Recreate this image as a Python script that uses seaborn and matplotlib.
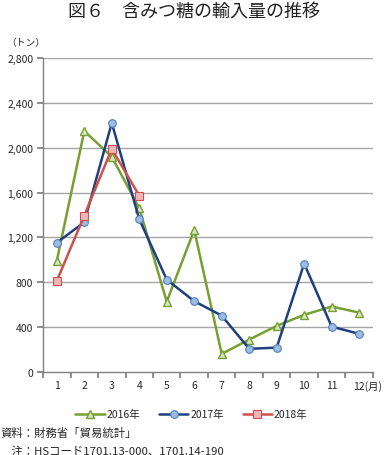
import numpy as np
import pandas as pd
import seaborn as sns
import matplotlib.pyplot as plt
from matplotlib.ticker import FuncFormatter, FixedLocator

# data (tons)
months = list(range(1, 13))
month_labels = [str(m) for m in months[:-1]] + ['']   # last one is drawn with its unit
y2016 = [990, 2150, 1920, 1460, 625, 1265, 158, 286, 408, 507, 581, 527]
y2017 = [1152, 1335, 2222, 1361, 822, 629, 500, 203, 214, 965, 402, 337]
y2018 = [810, 1394, 1990, 1572]
series_names = ['2016年', '2017年', '2018年']

sns.set_theme(style='white')
plt.rcParams['font.family'] = ['Noto Sans CJK JP', 'DejaVu Sans']

fig = plt.figure(figsize=(3.88, 4.56), dpi=100)
ax = fig.add_axes([0.111, 0.183, 0.850, 0.687])

# gridlines first
for v in range(400, 2801, 400):
    ax.axhline(v, color='#a6a6a6', lw=1.0, zorder=0)

df16 = pd.DataFrame({'month': months, 'value': y2016})
df17 = pd.DataFrame({'month': months, 'value': y2017})
df18 = pd.DataFrame({'month': months[:len(y2018)], 'value': y2018})

sns.lineplot(data=df16, x='month', y='value', ax=ax, color='#77a033', lw=1.8,
             marker='^', markersize=6, markerfacecolor='#d7e4bd',
             markeredgecolor='#77a033', markeredgewidth=1.0, label=series_names[0])
sns.lineplot(data=df17, x='month', y='value', ax=ax, color='#1f3f80', lw=1.8,
             marker='o', markersize=5.5, markerfacecolor='#9dbbe3',
             markeredgecolor='#4f81bd', markeredgewidth=0.8, label=series_names[1])
sns.lineplot(data=df18, x='month', y='value', ax=ax, color='#d0504d', lw=1.8,
             marker='s', markersize=5.5, markerfacecolor='#eab8b6',
             markeredgecolor='#d0504d', markeredgewidth=0.8, label=series_names[2])

ax.set_xlim(0.5, 12.5)
ax.set_ylim(0, 2800)
ax.set_xlabel('')
ax.set_ylabel('')

ax.yaxis.set_major_locator(FixedLocator(range(0, 2801, 400)))
ax.yaxis.set_major_formatter(FuncFormatter(lambda v, p: f'{int(v):,}'))
ax.tick_params(axis='y', labelsize=7.5, length=4, color='#808080', left=True, pad=3)

ax.xaxis.set_major_locator(FixedLocator(np.arange(0.5, 13, 1)))
ax.xaxis.set_major_formatter(FuncFormatter(lambda v, p: ''))
ax.xaxis.set_minor_locator(FixedLocator(months))
ax.set_xticklabels(month_labels, minor=True)
ax.tick_params(axis='x', which='major', length=4, color='#808080', bottom=True)
ax.tick_params(axis='x', which='minor', length=0, labelsize=7.5, pad=6)

# "12(月)" as one text, left-aligned where the centred 12 would start
ax.text(11.78, -0.027, '12(月)', transform=ax.get_xaxis_transform(),
        ha='left', va='top', fontsize=7.5, color='#262626')

for s in ['top', 'right']:
    ax.spines[s].set_visible(False)
for s in ['left', 'bottom']:
    ax.spines[s].set_color('#808080')
    ax.spines[s].set_linewidth(1.0)

ax.legend(loc='upper center', bbox_to_anchor=(0.45, -0.09), ncol=3, frameon=False,
          fontsize=7.5, handlelength=2.8, columnspacing=1.8, handletextpad=0.2)

fig.text(0.5, 0.972, '図６　含みつ糖の輸入量の推移', ha='center', va='center',
         fontsize=13, color='#222222')
fig.text(0.015, 0.905, '（トン）', ha='left', va='center', fontsize=7)
fig.text(0.0, 0.050, '資料：財務省「貿易統計」', ha='left', va='center', fontsize=8.2)
fig.text(0.0, 0.010, '　注：HSコード1701.13-000、1701.14-190', ha='left', va='center', fontsize=8.2)

fig.savefig('out.png', dpi=100)
